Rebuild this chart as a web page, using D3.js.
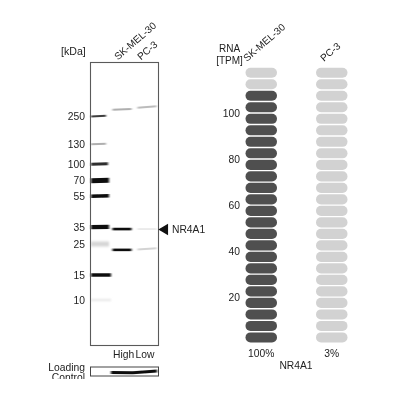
<!DOCTYPE html>
<html><head><meta charset="utf-8">
<script src="https://cdn.jsdelivr.net/npm/d3@7"></script>
<style>html,body{margin:0;padding:0;background:#fff}svg{display:block;filter:blur(0.3px)}text{font-family:"Liberation Sans",Arial,sans-serif;fill:#222}</style>
</head><body><div id="c"></div>
<script>
// Data
const kdaTicks=[250,130,100,70,55,35,25,15,10];
const ladderIntensity=[0.78,0.3,0.85,1,1,1,0.14,1,0.07];
const ladderThick=[2,2,3,5,3.6,4.4,5,3.4,2];
const ladderRight=[106,106,108,109,109,109,109,111,111];
const ladderTilt=[-3,-2,-2,-2,-2,-1,0,0,0];
const lanes=["SK-MEL-30","PC-3"];
const sampleKda=[292,33.6,22.7];
const sampleLane0=[0.3,1,0.97];
const sampleLane1=[0.25,0.05,0.15];
const sampleTilt=[[-1,0,0],[-1.8,0,-1.5]];
const loadingKda=[0,1,2];
const loadingX=[111,133,157];
const loadingY=[372.6,372.8,371];
const rnaTicks=[20,40,60,80,100];
const rnaValues=[110,3.3];
const rnaPercent=["100%","3%"];
const rnaBins=d3.range(0,120,5);

const W=400,H=400;
const svg=d3.select("#c").append("svg").attr("width",W).attr("height",H);
const defs=svg.append("defs");
defs.append("filter").attr("id","b").attr("x","-20%").attr("y","-300%").attr("width","140%").attr("height","700%")
  .append("feGaussianBlur").attr("stdDeviation","0.9 0.7");
defs.append("filter").attr("id","b2").attr("x","-20%").attr("y","-300%").attr("width","140%").attr("height","700%")
  .append("feGaussianBlur").attr("stdDeviation","1.2 1.3");
defs.append("clipPath").attr("id","lc").append("rect").attr("x",30).attr("y",355).attr("width",60).attr("height",24);

// western blot panel
const blot={l:90.5,r:158.5,t:62.5,b:345.5};
const y=d3.scaleLog().domain(kdaTicks).range([116,144,164,180.5,196,227,244,275,300]);
const gray=d3.scaleLinear().domain([0,1]).range(["#f6f6f6","#0a0a0a"]);
const xLane=d3.scaleBand().domain(lanes).range([110,159]).paddingInner(0.04);

const band=(g,x0,x1,yc,t,tilt,c)=>g.append("path")
  .attr("d",`M${x0},${yc-t/2-tilt/2}L${x1},${yc-t/2+tilt/2}L${x1},${yc+t/2+tilt/2}L${x0},${yc+t/2-tilt/2}Z`).attr("fill",c);
const blurG=svg.append("g").attr("filter","url(#b)");
kdaTicks.forEach((d,i)=>band(ladderIntensity[i]<0.2?svg.append("g").attr("filter","url(#b2)"):blurG,91,ladderRight[i],y(d),ladderThick[i],ladderTilt[i]/4,gray(ladderIntensity[i])));
[sampleLane0,sampleLane1].forEach((vals,li)=>{
  const x0=xLane(lanes[li])+2.5, x1=x0+xLane.bandwidth()-5;
  sampleKda.forEach((d,i)=>band(blurG,x0,x1,y(d)+(li==1?(i==0?-2.4:i==2?-1:0):0),vals[i]>0.5?2.6:1.9,sampleTilt[li][i]/1.2,gray(vals[i])));
});
svg.append("rect").attr("x",blot.l).attr("y",blot.t).attr("width",blot.r-blot.l).attr("height",blot.b-blot.t)
  .attr("fill","none").attr("stroke","#5a5a5a").attr("stroke-width",1.1);
svg.append("g").attr("font-size",10.3).selectAll("text").data(kdaTicks).join("text")
  .attr("x",85).attr("y",d=>y(d)+3.6).attr("text-anchor","end").text(d=>d);
svg.append("text").attr("x",61).attr("y",55).attr("font-size",10.6).text("[kDa]");
const laneLabelX=[118,141];
svg.append("g").attr("font-size",10).selectAll("text").data(lanes).join("text")
  .attr("transform",(d,i)=>`translate(${laneLabelX[i]},60.5) rotate(-41)`).text(d=>d);
svg.append("path").attr("d",d3.symbol(d3.symbolTriangle,55)()).attr("transform","translate(164.8,229.5) rotate(-90)").attr("fill","#111");
svg.append("text").attr("x",172).attr("y",233).attr("font-size",10.3).text("NR4A1");
svg.append("text").attr("x",113).attr("y",357.5).attr("font-size",10.3).text("High");
svg.append("text").attr("x",135.5).attr("y",357.5).attr("font-size",10.3).text("Low");
svg.append("g").attr("clip-path","url(#lc)").attr("font-size",10.3).selectAll("text").data(["Loading","Control"]).join("text")
  .attr("x",85).attr("y",(d,i)=>370.5+i*10).attr("text-anchor","end").text(d=>d);
svg.append("rect").attr("x",90.5).attr("y",367).attr("width",68).attr("height",9).attr("fill","none").attr("stroke","#444");
svg.append("path").attr("d",d3.line().x((d,i)=>loadingX[i]).y((d,i)=>loadingY[i])(loadingKda)).attr("fill","none").attr("stroke","#111").attr("stroke-width",3).attr("filter","url(#b)");

// RNA panel
const yR=d3.scaleLinear().domain([0,120]).range([343.2,67]);
const xRl=d3.scaleOrdinal().domain(lanes).range([245.5,316]);
const pillW=31.5;
lanes.forEach((n,li)=>{
  svg.append("g").selectAll("rect").data(rnaBins).join("rect")
    .attr("x",xRl(n)).attr("width",pillW)
    .attr("y",d=>yR(d+5)+0.7).attr("height",d=>yR(d)-yR(d+5)-1.4)
    .attr("rx",5).attr("fill",d=>d+5<=rnaValues[li]?"#4f4f4f":"#d2d2d2");
  svg.append("text").attr("x",xRl(n)+pillW/2).attr("y",356.5).attr("text-anchor","middle").attr("font-size",10.3).text(rnaPercent[li]);
});
svg.append("g").attr("font-size",10.3).selectAll("text").data(rnaTicks).join("text")
  .attr("x",240).attr("y",d=>yR(d)+3.6).attr("text-anchor","end").text(d=>d);
svg.append("text").attr("x",229.5).attr("y",52).attr("text-anchor","middle").attr("font-size",10).text("RNA");
svg.append("text").attr("x",229.5).attr("y",63.5).attr("text-anchor","middle").attr("font-size",10).text("[TPM]");
const rnaLabelX=[247,324];
svg.append("g").attr("font-size",10).selectAll("text").data(lanes).join("text")
  .attr("transform",(d,i)=>`translate(${rnaLabelX[i]},62) rotate(-41)`).text(d=>d);
svg.append("text").attr("x",296).attr("y",369).attr("text-anchor","middle").attr("font-size",10.3).text("NR4A1");
</script></body></html>
